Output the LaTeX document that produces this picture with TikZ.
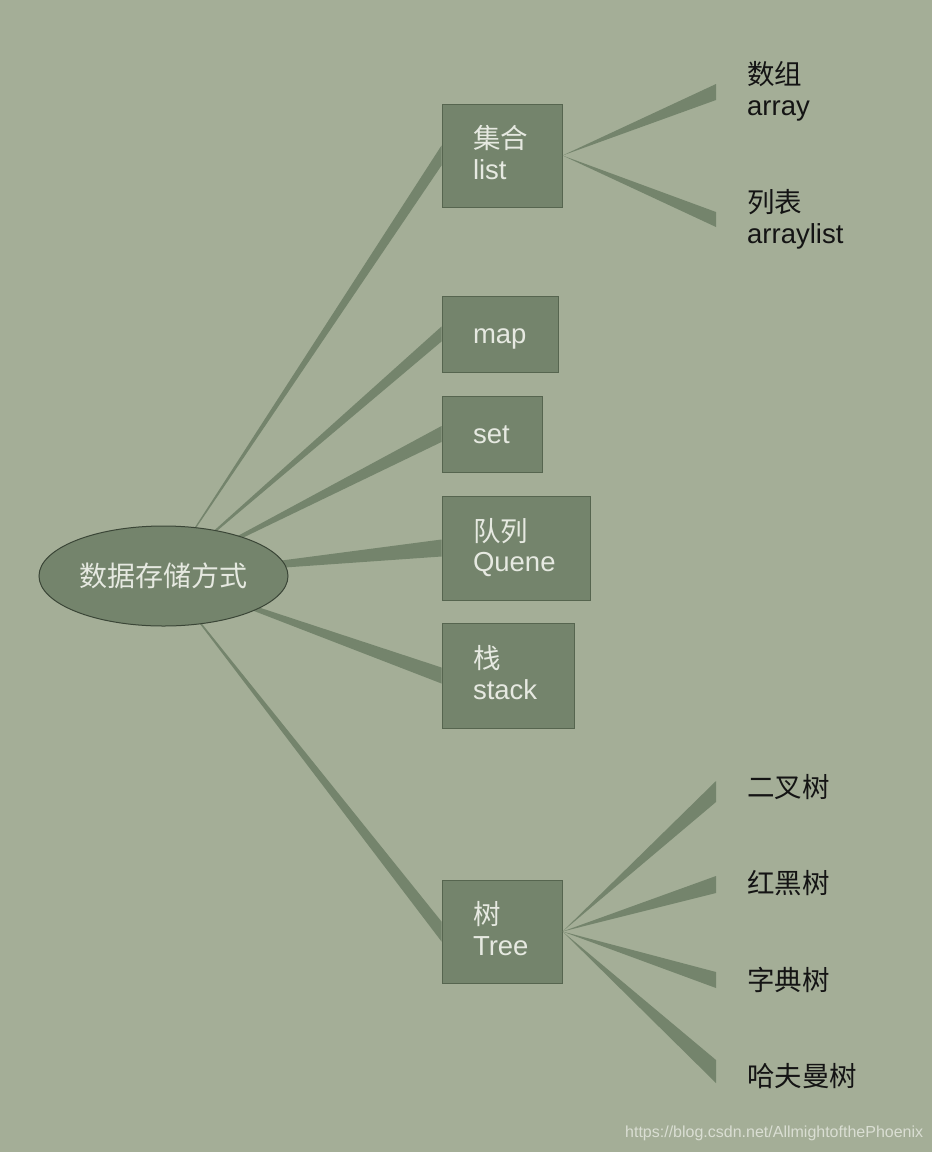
\documentclass[tikz,border=0pt]{standalone}
\usepackage{fontspec}
\setmainfont{Liberation Sans}
\newfontfamily\cjk{Noto Sans CJK SC}
\usetikzlibrary{shapes.geometric,calc}
\definecolor{bg}{HTML}{A4AE97}
\definecolor{boxfill}{HTML}{74846C}
\definecolor{boxline}{HTML}{56654F}
\definecolor{ellline}{HTML}{3B4637}
\definecolor{boxtext}{HTML}{E6E9E1}
\definecolor{dark}{HTML}{141414}
\definecolor{wmcol}{HTML}{DADED3}
\begin{document}
\begin{tikzpicture}[x=1pt,y=-1pt,
  conn/.style={fill=boxfill},
  boxbase/.style={rectangle, draw=boxline, line width=1pt, fill=boxfill,
    inner xsep=31pt, inner ysep=0pt, align=left, text=boxtext,
    font=\fontsize{27.5}{30.5}\selectfont},
  twoline/.style={boxbase, text height=24pt, text depth=38pt},
  oneline/.style={boxbase, text height=24pt, text depth=6pt},
  lab/.style={text=dark, inner sep=0pt, align=left, text width=180pt,
    font=\fontsize{27.5}{30.5}\selectfont},
  root/.style={ellipse, draw=ellline, line width=1pt, fill=boxfill, inner sep=0pt,
    minimum width=249pt, minimum height=100pt, text=boxtext,
    font=\fontsize{28}{30}\selectfont\cjk}
]
\useasboundingbox[fill=bg] (0,0) rectangle (932,1152);

% boxes
\node[twoline, text width=58pt, minimum height=103pt] (list) at (502,155.5) {{\cjk 集合}\\list};
\node[oneline, text width=54pt, minimum height=76pt] (map) at (500,334) {map};
\node[oneline, text width=38pt, minimum height=76pt] (set) at (492,434) {set};
\node[twoline, text width=86pt, minimum height=104pt] (quene) at (516,548) {{\cjk 队列}\\Quene};
\node[twoline, text width=70pt, minimum height=105pt] (stack) at (508,675.5) {{\cjk 栈}\\stack};
\node[twoline, text width=58pt, minimum height=103pt] (tree) at (502,931.5) {{\cjk 树}\\Tree};

% root position (drawn later on top of wedges)
\coordinate (rootc) at (163.5,576);

% main wedges
\fill[conn] (rootc) -- ([yshift=-10pt]list.west) -- ([yshift=10pt]list.west) -- cycle;
\fill[conn] (rootc) -- ([yshift=-7.5pt]map.west) -- ([yshift=7.5pt]map.west) -- cycle;
\fill[conn] (rootc) -- ([yshift=-8pt]set.west) -- ([yshift=8pt]set.west) -- cycle;
\fill[conn] (rootc) -- ([yshift=-8.5pt]quene.west) -- ([yshift=8.5pt]quene.west) -- cycle;
\fill[conn] (rootc) -- ([yshift=-8pt]stack.west) -- ([yshift=8pt]stack.west) -- cycle;
\fill[conn] (rootc) -- ([yshift=-10pt]tree.west) -- ([yshift=10pt]tree.west) -- cycle;

\node[root] (rootn) at (rootc) {数据存储方式};

% right labels
\node[lab, anchor=base west] (arr) at (747,84.5) {{\cjk 数组}\\array};
\node[lab, anchor=base west] (arrl) at (747,212.5) {{\cjk 列表}\\arraylist};
\node[lab, anchor=base west] (bt) at (747,797) {\cjk 二叉树};
\node[lab, anchor=base west] (rb) at (747,893) {\cjk 红黑树};
\node[lab, anchor=base west] (trie) at (747,990) {\cjk 字典树};
\node[lab, anchor=base west] (huff) at (747,1086) {\cjk 哈夫曼树};

% wedge ends
\coordinate (e-arr) at (716,92);
\coordinate (e-arrl) at (716,219.5);
\coordinate (e-bt) at (716,791.5);
\coordinate (e-rb) at (716,884.5);
\coordinate (e-trie) at (716,980);
\coordinate (e-huff) at (716,1071.5);

\fill[conn] (list.east) -- ([yshift=8pt]e-arr) -- ([yshift=-8pt]e-arr) -- cycle;
\fill[conn] (list.east) -- ([yshift=7.5pt]e-arrl) -- ([yshift=-7.5pt]e-arrl) -- cycle;
\fill[conn] (tree.east) -- ([yshift=10.5pt]e-bt) -- ([yshift=-10.5pt]e-bt) -- cycle;
\fill[conn] (tree.east) -- ([yshift=8.5pt]e-rb) -- ([yshift=-8.5pt]e-rb) -- cycle;
\fill[conn] (tree.east) -- ([yshift=8pt]e-trie) -- ([yshift=-8pt]e-trie) -- cycle;
\fill[conn] (tree.east) -- ([yshift=11.5pt]e-huff) -- ([yshift=-11.5pt]e-huff) -- cycle;

% watermark
\node[anchor=base west, inner sep=0pt, text=wmcol, font=\fontsize{16}{16}\selectfont] (wm) at (625,1137) {https://blog.csdn.net/AllmightofthePhoenix};
\end{tikzpicture}
\end{document}
